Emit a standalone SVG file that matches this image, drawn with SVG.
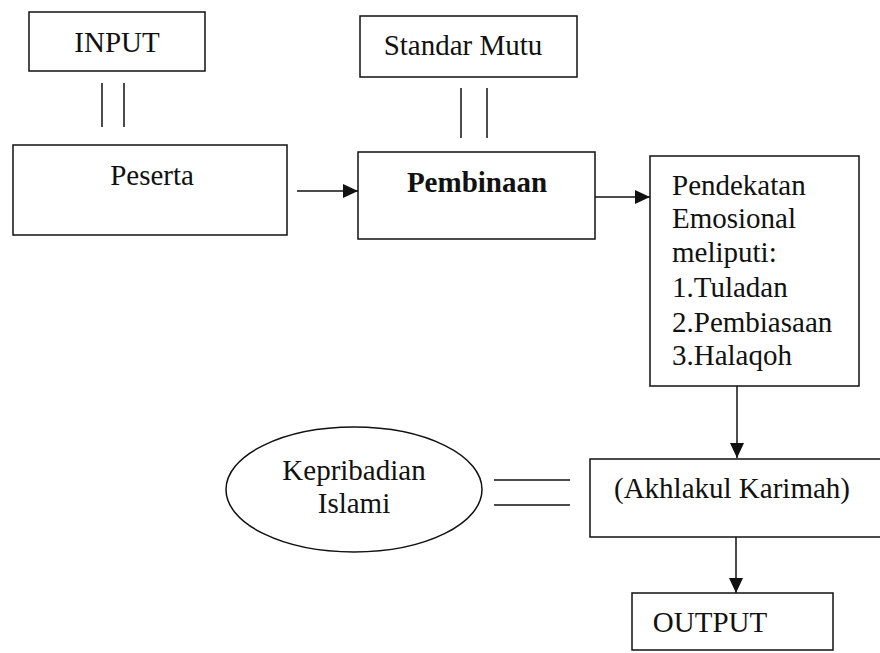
<svg xmlns="http://www.w3.org/2000/svg" width="880" height="653" viewBox="0 0 880 653">
<style>
.box{fill:#fff;stroke:#111;stroke-width:1.5}
.ln{stroke:#111;stroke-width:1.5;fill:none}
.t{font-size:29px;fill:#111}
.b{font-weight:bold}
</style>
<defs>
<marker id="ah" markerWidth="16" markerHeight="14" refX="15" refY="7" orient="auto" markerUnits="userSpaceOnUse">
<path d="M0,0 L15,7 L0,14 Z" fill="#111"/>
</marker>
</defs>
<rect width="880" height="653" fill="#fff"/>
<g id="connectors">
<line class="ln" x1="102" y1="83" x2="102" y2="127"/>
<line class="ln" x1="124" y1="83" x2="124" y2="127"/>
<line class="ln" x1="461" y1="88" x2="461" y2="138"/>
<line class="ln" x1="487" y1="88" x2="487" y2="138"/>
<line class="ln" x1="297" y1="191" x2="358" y2="191" marker-end="url(#ah)"/>
<line class="ln" x1="595" y1="197" x2="650" y2="197" marker-end="url(#ah)"/>
<line class="ln" x1="737" y1="386" x2="737" y2="458" marker-end="url(#ah)"/>
<line class="ln" x1="494" y1="480" x2="570" y2="480"/>
<line class="ln" x1="494" y1="505" x2="570" y2="505"/>
<line class="ln" x1="736" y1="537" x2="736" y2="593" marker-end="url(#ah)"/>
</g>
<g font-family="'Liberation Serif', 'DejaVu Serif', 'Times New Roman', serif">
<g id="input">
<rect class="box" x="29" y="12" width="176" height="59"/>
<text class="t" x="117" y="52" text-anchor="middle">INPUT</text>
</g>
<g id="standar-mutu">
<rect class="box" x="360" y="16" width="217" height="61"/>
<text class="t" x="463" y="55" text-anchor="middle">Standar Mutu</text>
</g>
<g id="peserta">
<rect class="box" x="13" y="145" width="274" height="90"/>
<text class="t" x="152" y="185" text-anchor="middle">Peserta</text>
</g>
<g id="pembinaan">
<rect class="box" x="358" y="152" width="237" height="87"/>
<text class="t b" x="477" y="192" text-anchor="middle">Pembinaan</text>
</g>
<g id="pendekatan">
<rect class="box" x="650" y="156" width="209" height="230"/>
<text class="t" x="672" y="195">Pendekatan</text>
<text class="t" x="672" y="228">Emosional</text>
<text class="t" x="672" y="262">meliputi:</text>
<text class="t" x="672" y="297">1.Tuladan</text>
<text class="t" x="672" y="332">2.Pembiasaan</text>
<text class="t" x="672" y="365">3.Halaqoh</text>
</g>
<g id="kepribadian">
<ellipse class="box" cx="354" cy="489.5" rx="128" ry="62.5"/>
<text class="t" x="354" y="480" text-anchor="middle">Kepribadian</text>
<text class="t" x="354" y="513" text-anchor="middle">Islami</text>
</g>
<g id="akhlakul">
<rect class="box" x="590" y="459" width="300" height="78"/>
<text class="t" x="732" y="498" text-anchor="middle">(Akhlakul Karimah)</text>
</g>
<g id="output">
<rect class="box" x="632" y="593" width="201" height="57"/>
<text class="t" x="710" y="632" text-anchor="middle">OUTPUT</text>
</g>
</g>
</svg>
